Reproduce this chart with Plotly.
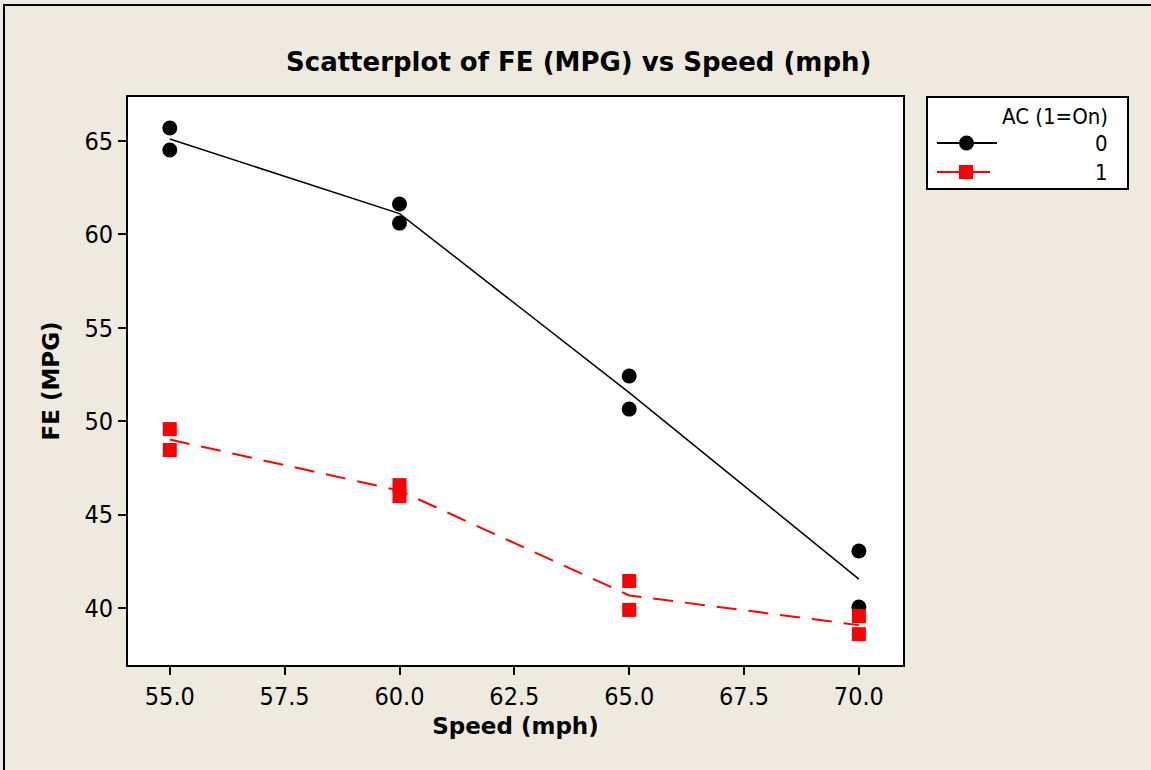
import plotly.graph_objects as go
import numpy as np

# Data
speed = [55, 55, 60, 60, 65, 65, 70, 70]
fe_ac0 = [65.70, 64.52, 61.63, 60.61, 52.42, 50.65, 43.05, 40.05]
fe_ac1 = [49.58, 48.46, 46.58, 45.99, 41.45, 39.90, 39.57, 38.60]
speed_levels = [55, 60, 65, 70]
x_ticks = [55.0, 57.5, 60.0, 62.5, 65.0, 67.5, 70.0]
y_ticks = [40, 45, 50, 55, 60, 65]

def level_means(xs, ys):
    xs = np.array(xs); ys = np.array(ys)
    return [float(ys[xs == s].mean()) for s in speed_levels]

mean0 = level_means(speed, fe_ac0)
mean1 = level_means(speed, fe_ac1)

W, H = 1151, 770
L, R, T, B = 128, 903, 97, 665
def px(x):
    return (x - L) / (R - L)
def py(y):
    return (B - y) / (B - T)

FONT = "DejaVu Sans Condensed, DejaVu Sans"
BOLD = "DejaVu Sans"
BG = "#EEEAE0"

fig = go.Figure()
fig.add_trace(go.Scatter(x=speed_levels, y=mean0, mode="lines",
                         line=dict(color="black", width=1.5), showlegend=False, hoverinfo="skip"))
fig.add_trace(go.Scatter(x=speed_levels, y=mean1, mode="lines",
                         line=dict(color="#FF0000", width=2, dash="20px,12px"), showlegend=False, hoverinfo="skip"))
fig.add_trace(go.Scatter(x=speed, y=fe_ac0, mode="markers", name="0",
                         marker=dict(symbol="circle", size=15, color="black"), showlegend=False))
fig.add_trace(go.Scatter(x=speed, y=fe_ac1, mode="markers", name="1",
                         marker=dict(symbol="square", size=14, color="#FF0000"), showlegend=False))

axis_common = dict(showline=True, linecolor="black", linewidth=2, mirror=True,
                   ticks="outside", ticklen=8, tickwidth=2, tickcolor="black",
                   showgrid=False, zeroline=False,
                   tickfont=dict(family=FONT, size=25, color="black"))

fig.update_xaxes(range=[54.09, 70.96], tickvals=x_ticks,
                 ticktext=[f"{v:.1f}" for v in x_ticks],
                 title=dict(text="<b>Speed (mph)</b>", font=dict(family=BOLD, size=23, color="black"), standoff=8),
                 **axis_common)
fig.update_yaxes(range=[36.95, 67.36], tickvals=y_ticks,
                 ticktext=[str(v) for v in y_ticks],
                 title=dict(text="<b>FE (MPG)</b>", font=dict(family=BOLD, size=23, color="black"), standoff=18),
                 **axis_common)

shapes = []
# outer page border
shapes.append(dict(type="rect", xref="paper", yref="paper",
                   x0=px(4), x1=px(1200), y0=py(820), y1=py(5),
                   line=dict(color="black", width=2), fillcolor="rgba(0,0,0,0)", layer="below"))
# legend box
shapes.append(dict(type="rect", xref="paper", yref="paper",
                   x0=px(927), x1=px(1128), y0=py(189), y1=py(97),
                   line=dict(color="black", width=2), fillcolor="white"))
# legend entry 0: line + circle
shapes.append(dict(type="line", xref="paper", yref="paper",
                   x0=px(937), x1=px(997), y0=py(143), y1=py(143),
                   line=dict(color="black", width=2)))
shapes.append(dict(type="circle", xref="paper", yref="paper",
                   x0=px(959), x1=px(974), y0=py(150.5), y1=py(135.5),
                   line=dict(color="black", width=0), fillcolor="black"))
# legend entry 1: line + square
shapes.append(dict(type="line", xref="paper", yref="paper",
                   x0=px(937), x1=px(990), y0=py(172), y1=py(172),
                   line=dict(color="#FF0000", width=2)))
shapes.append(dict(type="rect", xref="paper", yref="paper",
                   x0=px(959), x1=px(973), y0=py(179), y1=py(165),
                   line=dict(color="#FF0000", width=0), fillcolor="#FF0000"))

annotations = [
    dict(text="<b>Scatterplot of FE (MPG) vs Speed (mph)</b>", xref="paper", yref="paper",
         x=px(578), y=py(62), xanchor="center", yanchor="middle", showarrow=False,
         font=dict(family=BOLD, size=26, color="black")),
    dict(text="AC (1=On)", xref="paper", yref="paper", x=px(1110), y=py(116),
         xanchor="right", yanchor="middle", showarrow=False,
         font=dict(family=FONT, size=22, color="black")),
    dict(text="0", xref="paper", yref="paper", x=px(1110), y=py(143),
         xanchor="right", yanchor="middle", showarrow=False,
         font=dict(family=FONT, size=22, color="black")),
    dict(text="1", xref="paper", yref="paper", x=px(1110), y=py(172),
         xanchor="right", yanchor="middle", showarrow=False,
         font=dict(family=FONT, size=22, color="black")),
]

fig.update_layout(width=W, height=H, autosize=False,
                  margin=dict(l=L, r=W - R, t=T, b=H - B, pad=0),
                  paper_bgcolor=BG, plot_bgcolor="white",
                  shapes=shapes, annotations=annotations, showlegend=False,
                  font=dict(family=FONT, color="black"))

fig.write_html("out.html", config={"displayModeBar": False},
               post_script="document.body.style.margin='0';document.body.style.overflow='hidden';")
